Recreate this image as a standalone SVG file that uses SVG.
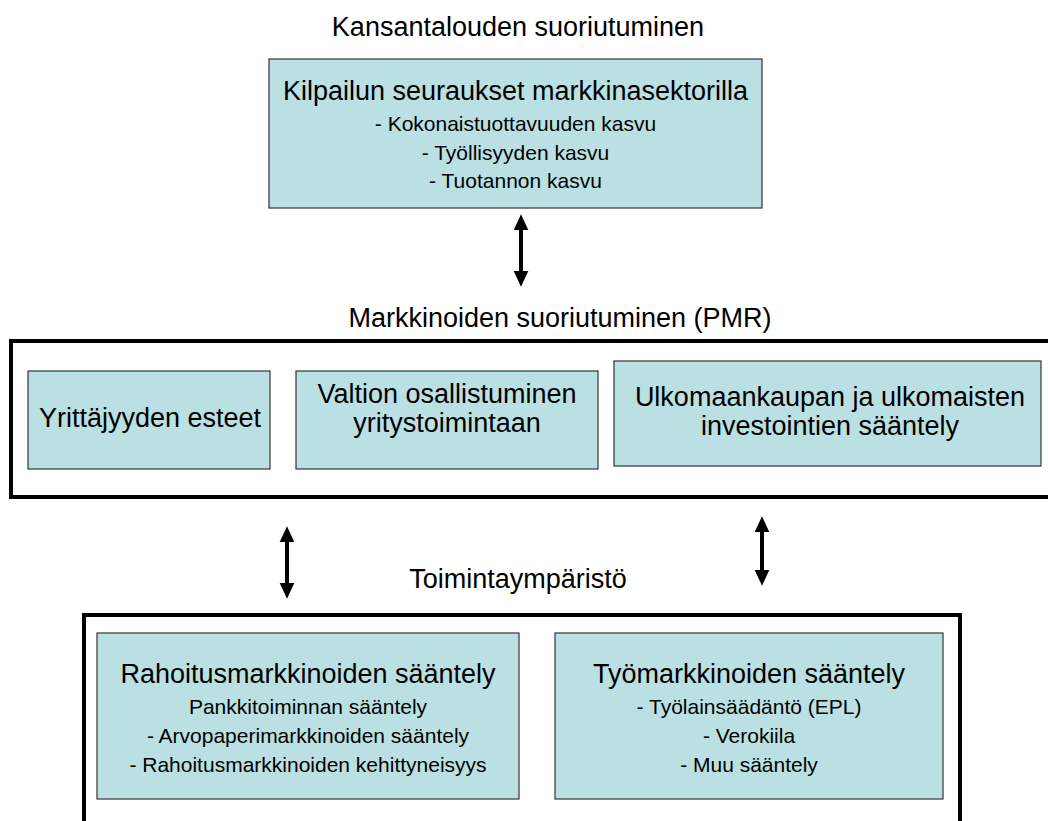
<svg xmlns="http://www.w3.org/2000/svg" width="1048" height="821" viewBox="0 0 1048 821">
<defs>
<style>
text{font-family:"Liberation Sans",Arial,sans-serif;fill:#000;text-anchor:middle}
.h{font-size:27px}
.s{font-size:21px}
.box{fill:#BBE0E3;stroke:#333;stroke-width:1.2}
.outer{fill:none;stroke:#000;stroke-width:4}
.arr{stroke:#000;stroke-width:4;fill:none;marker-start:url(#ah);marker-end:url(#ah)}
</style>
<marker id="ah" markerUnits="userSpaceOnUse" markerWidth="16" markerHeight="16" viewBox="0 0 15 14" refX="5" refY="7" orient="auto-start-reverse">
<path d="M0,0 L15,7 L0,14 z" fill="#000"/>
</marker>
</defs>
<rect width="1048" height="821" fill="#fff"/>

<g id="title-top"><text class="h" x="518" y="36">Kansantalouden suoriutuminen</text></g>
<g id="node-kilpailu">
<rect class="box" x="269" y="59" width="493" height="149"/>
<text class="h" x="515.5" y="100">Kilpailun seuraukset markkinasektorilla</text>
<text class="s" x="515.5" y="131">- Kokonaistuottavuuden kasvu</text>
<text class="s" x="515.5" y="160">- Työllisyyden kasvu</text>
<text class="s" x="515.5" y="188">- Tuotannon kasvu</text>
</g>

<g id="title-mid"><text class="h" x="560" y="327">Markkinoiden suoriutuminen (PMR)</text></g>
<g id="group-pmr"><rect class="outer" x="11" y="341" width="1045" height="156"/></g>
<g id="node-yrittajyys">
<rect class="box" x="28" y="371" width="242" height="98"/>
<text class="h" x="150" y="427">Yrittäjyyden esteet</text>
</g>
<g id="node-valtio">
<rect class="box" x="296" y="371" width="302" height="98"/>
<text class="h" x="447" y="403">Valtion osallistuminen</text>
<text class="h" x="447" y="432">yritystoimintaan</text>
</g>
<g id="node-ulkomaan">
<rect class="box" x="614" y="361" width="427" height="105"/>
<text class="h" x="830" y="406">Ulkomaankaupan ja ulkomaisten</text>
<text class="h" x="830" y="435">investointien sääntely</text>
</g>

<g id="title-bottom"><text class="h" x="518" y="588">Toimintaympäristö</text></g>
<g id="group-toiminta"><rect class="outer" x="84" y="615" width="876" height="230"/></g>
<g id="node-rahoitus">
<rect class="box" x="97" y="633" width="422" height="166"/>
<text class="h" x="308" y="683">Rahoitusmarkkinoiden sääntely</text>
<text class="s" x="308" y="714">Pankkitoiminnan sääntely</text>
<text class="s" x="308" y="743">- Arvopaperimarkkinoiden sääntely</text>
<text class="s" x="308" y="772">- Rahoitusmarkkinoiden kehittyneisyys</text>
</g>
<g id="node-tyo">
<rect class="box" x="555" y="633" width="388" height="166"/>
<text class="h" x="749" y="683">Työmarkkinoiden sääntely</text>
<text class="s" x="749" y="714">- Työlainsäädäntö (EPL)</text>
<text class="s" x="749" y="743">- Verokiila</text>
<text class="s" x="749" y="772">- Muu sääntely</text>
</g>

<g id="connectors">
<line class="arr" x1="521" y1="225" x2="521" y2="276"/>
<line class="arr" x1="287" y1="537" x2="287" y2="588"/>
<line class="arr" x1="762" y1="527" x2="762" y2="575"/>
</g>
</svg>
